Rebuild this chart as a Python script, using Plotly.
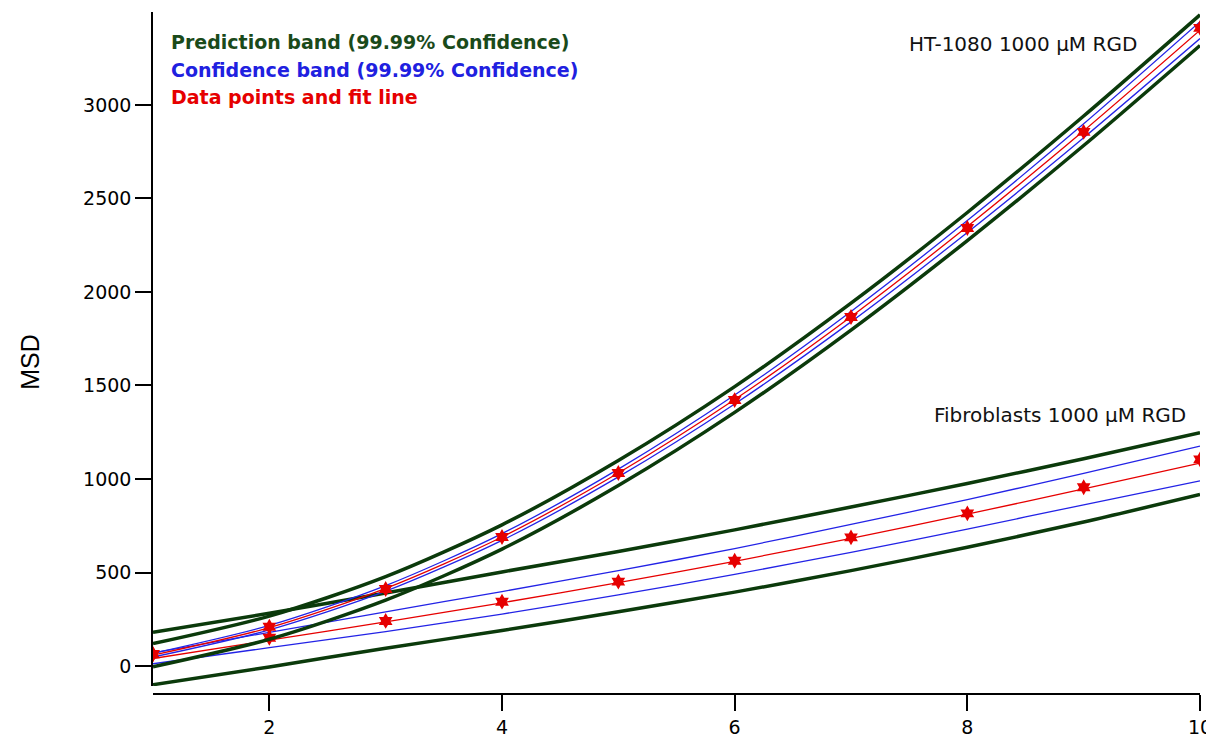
import plotly.graph_objects as go

x_vals = [1, 2, 3, 4, 5, 6, 7, 8, 9, 10]

# HT-1080 1000 uM RGD
ht_points = [62, 210, 412, 690, 1032, 1422, 1866, 2342, 2856, 3412]
ht_fit = [58, 205, 415, 690, 1032, 1425, 1868, 2350, 2862, 3400]
ht_conf_up = [68, 217, 430, 708, 1053, 1449, 1896, 2382, 2899, 3445]
ht_conf_lo = [48, 193, 400, 672, 1011, 1401, 1840, 2318, 2825, 3355]
ht_pred_up = [120, 267, 478, 755, 1099, 1494, 1940, 2425, 2941, 3482]
ht_pred_lo = [-4, 143, 352, 625, 965, 1356, 1796, 2275, 2783, 3318]

# Fibroblasts 1000 uM RGD
fb_points = [64, 151, 241, 344, 451, 563, 688, 816, 956, 1105]
fb_fit = [40, 138, 236, 338, 446, 560, 683, 812, 947, 1085]
fb_conf_up = [70, 180, 290, 398, 510, 628, 757, 890, 1030, 1176]
fb_conf_lo = [12, 98, 184, 278, 380, 490, 608, 732, 862, 990]
fb_pred_up = [180, 282, 390, 503, 612, 728, 850, 976, 1108, 1247]
fb_pred_lo = [-100, -5, 95, 190, 290, 395, 510, 635, 770, 917]

y_ticks = [0, 500, 1000, 1500, 2000, 2500, 3000]
x_ticks = [2, 4, 6, 8, 10]

GREEN = "#0b3a0b"
BLUE = "#2323e6"
RED = "#e60000"

fig = go.Figure()

def add_line(y, color, width):
    fig.add_trace(go.Scatter(x=x_vals, y=y, mode="lines",
                             line=dict(color=color, width=width, shape="spline", smoothing=0.8),
                             showlegend=False, hoverinfo="skip"))

for series in [(fb_pred_up, fb_pred_lo, fb_conf_up, fb_conf_lo, fb_fit, fb_points),
               (ht_pred_up, ht_pred_lo, ht_conf_up, ht_conf_lo, ht_fit, ht_points)]:
    pu, pl, cu, cl, fit, pts = series
    add_line(pu, GREEN, 3.5)
    add_line(pl, GREEN, 3.5)
    add_line(cu, BLUE, 1.3)
    add_line(cl, BLUE, 1.3)
    add_line(fit, RED, 1.3)
    fig.add_trace(go.Scatter(x=x_vals, y=pts, mode="markers",
                             marker=dict(color=RED, size=12, symbol="hexagram",
                                         line=dict(width=0)),
                             showlegend=False))

tick_family = "DejaVu Sans"

annotations = [
    dict(text="<b>Prediction band (99.99% Confidence)</b>", x=0.0152, y=0.956,
         font=dict(color="#1a4a1a", size=19, family=tick_family)),
    dict(text="<b>Confidence band (99.99% Confidence)</b>", x=0.0152, y=0.915,
         font=dict(color="#2020e0", size=19, family=tick_family)),
    dict(text="<b>Data points and fit line</b>", x=0.0152, y=0.875,
         font=dict(color="#e60000", size=19, family=tick_family)),
]
for a in annotations:
    a.update(xref="paper", yref="paper", xanchor="left", yanchor="middle", showarrow=False)

annotations += [
    dict(text="HT-1080 1000 µM RGD", x=0.831, y=0.953, xref="paper", yref="paper",
         xanchor="center", yanchor="middle", showarrow=False,
         font=dict(color="#111", size=20, family=tick_family)),
    dict(text="Fibroblasts 1000 µM RGD", x=0.866, y=0.409, xref="paper", yref="paper",
         xanchor="center", yanchor="middle", showarrow=False,
         font=dict(color="#111", size=20, family=tick_family)),
    dict(text="MSD", x=-0.1175, y=0.487, xref="paper", yref="paper",
         xanchor="center", yanchor="middle", showarrow=False, textangle=-90,
         font=dict(color="#000", size=25, family="Liberation Sans")),
]

fig.update_layout(
    width=1206, height=734,
    margin=dict(l=145, r=14, t=4, b=48, autoexpand=False),
    plot_bgcolor="white", paper_bgcolor="white",
    font=dict(family=tick_family, color="#000"),
    annotations=annotations,
    xaxis=dict(range=[1, 10], tickvals=x_ticks, ticks="outside", ticklen=16, tickwidth=1.5,
               tickcolor="#000", showline=True, linecolor="#000", linewidth=1.5,
               showgrid=False, zeroline=False, anchor="free", position=0, automargin=False,
               tickfont=dict(size=19, color="#000", family=tick_family)),
    yaxis=dict(range=[-107, 3497], tickvals=y_ticks, ticks="outside", ticklen=16, tickwidth=1.5,
               tickcolor="#000", showline=True, linecolor="#000", linewidth=1.5,
               showgrid=False, zeroline=False, domain=[0.0117, 1], automargin=False,
               tickfont=dict(size=19, color="#000", family=tick_family)),
)

fig.write_html("out.html")
